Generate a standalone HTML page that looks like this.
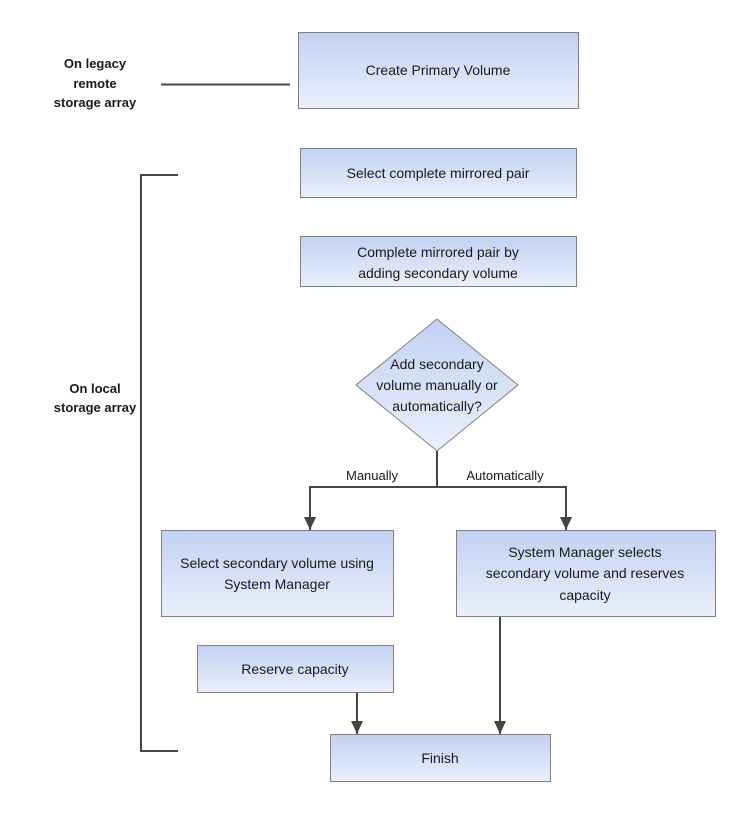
<!DOCTYPE html>
<html><head><meta charset="utf-8"><style>
html,body{margin:0;padding:0;background:#fff;}
svg{display:block;}
text{font-family:"Liberation Sans",sans-serif;font-size:14px;fill:#1a1a1a;}
.b{font-weight:bold;font-size:13px;}
</style></head><body>
<svg width="746" height="816" viewBox="0 0 746 816" xmlns="http://www.w3.org/2000/svg">
<defs>
<linearGradient id="g" x1="0" y1="0" x2="0" y2="1">
<stop offset="0" stop-color="#c2d1f3"/><stop offset="1" stop-color="#eaf0fb"/>
</linearGradient>
<marker id="a" markerWidth="14" markerHeight="14" refX="13" refY="6" orient="auto" markerUnits="userSpaceOnUse">
<path d="M0,0 L13,6 L0,12 Z" fill="#444"/>
</marker>
</defs>
<g stroke="#808080" stroke-width="1" fill="url(#g)">
<rect x="298.5" y="32.5" width="280" height="76"/>
<rect x="300.5" y="148.5" width="276" height="49"/>
<rect x="300.5" y="236.5" width="276" height="50"/>
<polygon points="437,319 518,385 437,451 356,385"/>
<rect x="161.5" y="530.5" width="232" height="86"/>
<rect x="456.5" y="530.5" width="259" height="86"/>
<rect x="197.5" y="645.5" width="196" height="47"/>
<rect x="330.5" y="734.5" width="220" height="47"/>
</g>
<g stroke="#444" stroke-width="2" fill="none">
<line x1="161" y1="84.5" x2="290" y2="84.5"/>
<polyline points="178,175 141,175 141,751 178,751"/>
<line x1="437" y1="451" x2="437" y2="487"/>
<polyline points="310,487 566,487"/>
<line x1="310" y1="486" x2="310" y2="530" marker-end="url(#a)"/>
<line x1="566" y1="486" x2="566" y2="530" marker-end="url(#a)"/>
<line x1="357" y1="693" x2="357" y2="734" marker-end="url(#a)"/>
<line x1="500" y1="617" x2="500" y2="734" marker-end="url(#a)"/>
</g>
<g text-anchor="middle">
<text class="b" x="95" y="68">On legacy</text>
<text class="b" x="95" y="88">remote</text>
<text class="b" x="95" y="107">storage array</text>
<text class="b" x="95" y="393">On local</text>
<text class="b" x="95" y="412">storage array</text>
<text x="438" y="75">Create Primary Volume</text>
<text x="438" y="178">Select complete mirrored pair</text>
<text x="438" y="257">Complete mirrored pair by</text>
<text x="438" y="278">adding secondary volume</text>
<text x="437" y="369">Add secondary</text>
<text x="437" y="390">volume manually or</text>
<text x="437" y="411">automatically?</text>
<text x="372" y="480" style="font-size:13px">Manually</text>
<text x="505" y="480" style="font-size:13px">Automatically</text>
<text x="277" y="568">Select secondary volume using</text>
<text x="277" y="589">System Manager</text>
<text x="585" y="557">System Manager selects</text>
<text x="585" y="578">secondary volume and reserves</text>
<text x="585" y="600">capacity</text>
<text x="295" y="674">Reserve capacity</text>
<text x="440" y="763">Finish</text>
</g>
</svg>
</body></html>
